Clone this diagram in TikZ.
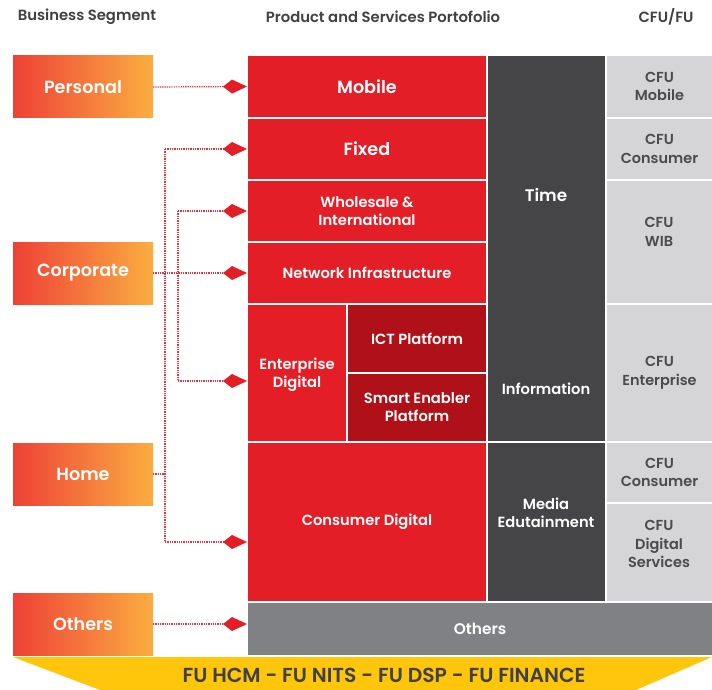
\documentclass[tikz,border=0pt]{standalone}
\usepackage{fontspec}
\setmainfont{Poppins}[BoldFont={Poppins SemiBold}]
\usetikzlibrary{arrows.meta}

\definecolor{segred}{HTML}{EE4136}
\definecolor{segorange}{HTML}{FBAD41}
\definecolor{prodred}{HTML}{E41E26}
\definecolor{platred}{HTML}{B01118}
\definecolor{darkcol}{HTML}{454547}
\definecolor{lightcol}{HTML}{D5D5D7}
\definecolor{othergrey}{HTML}{808184}
\definecolor{bannery}{HTML}{FFC60B}
\definecolor{headtext}{HTML}{414143}
\definecolor{celltext}{HTML}{4B4B4D}
\definecolor{linkred}{HTML}{EA3038}

\begin{document}
\begin{tikzpicture}[x=1pt,y=-1pt,
  big/.style={font=\bfseries\fontsize{17.6}{19}\selectfont},
  mid/.style={font=\bfseries\fontsize{14.7}{18}\selectfont},
  cell/.style={draw=white, line width=2pt, inner sep=0pt, outer sep=0pt,
    anchor=north west, align=center},
  redcell/.style={cell, fill=prodred, text=white, mid},
  platcell/.style={redcell, fill=platred},
  darkcell/.style={cell, fill=darkcol, text=white, mid},
  greytext/.style={text=celltext, align=center,
    font=\bfseries\fontsize{14.5}{18.5}\selectfont},
  greycell/.style={cell, fill=lightcol, greytext},
  segbox/.style={inner sep=0pt, outer sep=0pt, anchor=north west,
    minimum width=140pt, minimum height=62pt,
    left color=segred, right color=segorange, text=white, big},
  header/.style={text=headtext, font=\bfseries\fontsize{14.8}{17}\selectfont},
  link/.style={draw=linkred, line width=1.2pt, dash pattern=on 1.3pt off 1pt},
  conn/.style={link, -{Kite[length=24pt, width=14pt, inset=9pt, fill=prodred, line width=0pt, sep=0pt]}}
]
\useasboundingbox (0,0) rectangle (712,690);
\fill[white] (0,0) rectangle (712,690);

% column headings
\node[header] (hseg)  at (87,17)  {Business Segment};
\node[header] (hprod) at (383,17) {Product and Services Portofolio};
\node[header] (hcfu)  at (666,17) {CFU/FU};

% business segments
\node[segbox] (personal)  at (13,56)  {Personal};
\node[segbox] (corporate) at (13,242) {Corporate};
\node[segbox] (home)      at (13,443) {Home};
\node[segbox] (others)    at (13,593) {Others};

% product and services portfolio
\node[redcell, big, minimum width=240pt, minimum height=63pt] (mobile) at (247,55) {Mobile};
\node[redcell, big, minimum width=240pt, minimum height=62pt] (fixed) at (247,118) {Fixed};
\node[redcell, minimum width=240pt, minimum height=62pt] (wholesale) at (247,180) {Wholesale \&\\International};
\node[redcell, minimum width=240pt, minimum height=62pt] (network) at (247,242) {Network Infrastructure};
\node[redcell, minimum width=100pt, minimum height=138pt] (entdigital) at (247,304) {};
\node[text=white, align=center, mid] (entlabel) at (297,375) {Enterprise\\Digital};
\node[platcell, minimum width=140pt, minimum height=69pt] (ict) at (347,304) {ICT Platform};
\node[platcell, minimum width=140pt, minimum height=69pt] (smart) at (347,373) {Smart Enabler\\Platform};
\node[redcell, minimum width=240pt, minimum height=160pt] (consumer) at (247,442) {};
\node[text=white, mid] (conlabel) at (367,522) {Consumer Digital};
\node[cell, fill=othergrey, text=white, minimum width=466pt, minimum height=54pt,
  font=\bfseries\fontsize{15.4}{18}\selectfont] (otherbar) at (247,602) {Others};

% service dimensions
\node[darkcell, minimum width=119pt, minimum height=387pt] (timeinfo) at (487,55) {};
\node[text=white, font=\bfseries\fontsize{16.8}{19}\selectfont] (time) at (546,195) {Time};
\node[text=white, mid] (information) at (546,389) {Information};
\node[darkcell, minimum width=119pt, minimum height=160pt] (media) at (487,442) {};
\node[text=white, align=center, mid] (medialabel) at (546,513) {Media\\Edutainment};

% customer facing units
\node[greycell, minimum width=107pt, minimum height=63pt] (cfumobile) at (606,55) {CFU\\Mobile};
\node[greycell, minimum width=107pt, minimum height=62pt] (cfuconsumer) at (606,118) {CFU\\Consumer};
\node[greycell, minimum width=107pt, minimum height=124pt] (cfuwib) at (606,180) {};
\node[greytext] (wiblabel) at (659,232) {CFU\\WIB};
\node[greycell, minimum width=107pt, minimum height=138pt] (cfuent) at (606,304) {CFU\\Enterprise};
\node[greycell, minimum width=107pt, minimum height=61pt] (cfuconsumer2) at (606,442) {CFU\\Consumer};
\node[greycell, minimum width=107pt, minimum height=99pt] (cfudigital) at (606,503) {};
\node[greytext] (digitallabel) at (659,544) {CFU\\Digital\\Services};

% functional units banner
\fill[bannery] (13,657) -- (712,657) -- (636,690) -- (100,690) -- cycle;
\node[text=headtext, font=\bfseries\fontsize{20.3}{23}\selectfont] (fubanner) at (384,675)
  {FU HCM - FU NITS - FU DSP - FU FINANCE};

% connectors
\coordinate (v1) at (165,0);
\coordinate (v2) at (178,0);
\coordinate (entarrow) at (247,381);
\coordinate (conarrow) at (247,542);

\draw[conn] (personal.east) -- (mobile.west);
\draw[link] (v1 |- fixed.west) -- (v1 |- conarrow);
\draw[conn] (v1 |- fixed.west) -- (fixed.west);
\draw[conn] (v1 |- conarrow) -- (conarrow);
\draw[link] (v2 |- wholesale.west) -- (v2 |- entarrow);
\draw[conn] (v2 |- wholesale.west) -- (wholesale.west);
\draw[conn] (v2 |- entarrow) -- (entarrow);
\draw[conn] (corporate.east) -- (network.west);
\draw[link] (home.east) -- (v1 |- home.east);
\draw[conn] (others.east) -- (others.east -| otherbar.west);
\end{tikzpicture}
\end{document}
